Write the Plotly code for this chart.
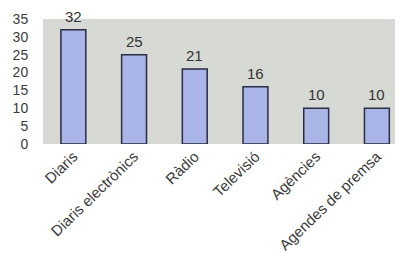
import plotly.graph_objects as go

categories = ["Diaris", "Diaris electrònics", "Ràdio", "Televisió", "Agències", "Agendes de premsa"]
values = [32, 25, 21, 16, 10, 10]
y_ticks = [0, 5, 10, 15, 20, 25, 30, 35]

fig = go.Figure(go.Bar(
    x=categories, y=values,
    marker=dict(color="#a9b5e6", line=dict(color="#2b2d45", width=1.5)),
    width=0.41, cliponaxis=False,
))
for c, v in zip(categories, values):
    fig.add_annotation(x=c, y=v, text=str(v), showarrow=False,
                       yanchor="bottom", yshift=3,
                       font=dict(size=15, color="#333333"))
fig.update_layout(
    width=395, height=252,
    margin=dict(l=35, r=0, t=11, b=116, autoexpand=False),
    paper_bgcolor="white", plot_bgcolor="#d6d9d4",
    font=dict(family="Liberation Sans, Arial, sans-serif", color="#3a3a3a"),
    showlegend=False,
    xaxis=dict(range=[-0.5, 5.43], tickangle=-44, tickfont=dict(size=15),
               showgrid=False, zeroline=False, ticks="", automargin=False),
    yaxis=dict(range=[0, 35], tickvals=y_ticks, tickfont=dict(size=14),
               showgrid=False, zeroline=False, ticks="outside", ticklen=11,
               tickcolor="rgba(0,0,0,0)", automargin=False),
)
fig.write_html("out.html")
